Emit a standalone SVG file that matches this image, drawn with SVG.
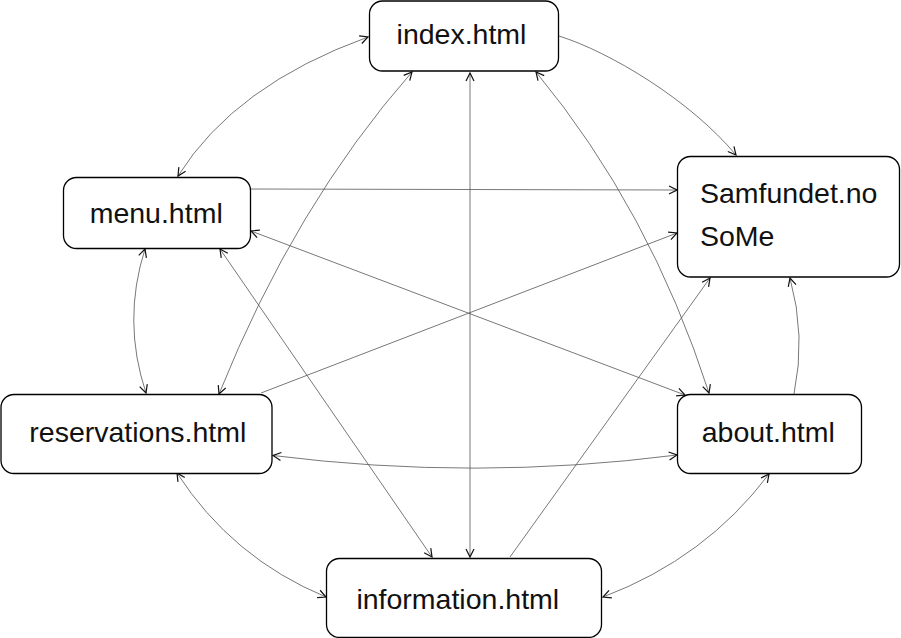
<svg xmlns="http://www.w3.org/2000/svg" width="901" height="638" viewBox="0 0 901 638">
<style>
.node rect{fill:#fff;stroke:#000;stroke-width:1.3}
.node text{font-family:"Liberation Sans",Arial,sans-serif;font-size:28.5px;fill:#111}
.c{fill:none;stroke:#555;stroke-width:0.8}
.v{fill:none;stroke:#aaa;stroke-width:1.6}
</style>
<defs>
<marker id="ah" viewBox="-1 -1 10 10" refX="8" refY="4" markerWidth="10" markerHeight="10" markerUnits="userSpaceOnUse" orient="auto-start-reverse">
<path d="M0,0 L8,4 L0,8" fill="none" stroke="#111" stroke-width="1.2"/>
</marker>
</defs>
<rect width="901" height="638" fill="#fff"/>
<g id="connectors">
<path class="c" d="M368,37 Q235,85 178,176" marker-start="url(#ah)" marker-end="url(#ah)"/>
<path class="c" d="M559,36 C610,52 690,100 736,155" marker-end="url(#ah)"/>
<path class="c" d="M412,72 Q295,205 219,394" marker-start="url(#ah)" marker-end="url(#ah)"/>
<path class="v" d="M470,73 L470,557" marker-start="url(#ah)" marker-end="url(#ah)"/>
<path class="c" d="M536,72 Q650,210 709,393" marker-start="url(#ah)" marker-end="url(#ah)"/>
<path class="c" d="M251,189 L677,190" marker-end="url(#ah)"/>
<path class="c" d="M251,231 L685,395" marker-start="url(#ah)" marker-end="url(#ah)"/>
<path class="c" d="M220,249 L432,557" marker-start="url(#ah)" marker-end="url(#ah)"/>
<path class="c" d="M145,249 Q122,321 146,393" marker-start="url(#ah)" marker-end="url(#ah)"/>
<path class="c" d="M261,393 L677,233" marker-end="url(#ah)"/>
<path class="c" d="M273,455.5 Q475,481 677,455" marker-start="url(#ah)" marker-end="url(#ah)"/>
<path class="c" d="M177,473 Q232,558 326,597" marker-start="url(#ah)" marker-end="url(#ah)"/>
<path class="c" d="M510,557 L710,278" marker-end="url(#ah)"/>
<path class="c" d="M769,474 Q706,558 603,597" marker-start="url(#ah)" marker-end="url(#ah)"/>
<path class="c" d="M794,394 Q806,336 790,278" marker-end="url(#ah)"/>
</g>
<g id="index" class="node">
<rect x="369.5" y="1" width="189" height="70" rx="13"/>
<text x="461.5" y="44" text-anchor="middle">index.html</text>
</g>
<g id="samfundet" class="node">
<rect x="677.5" y="156.5" width="222" height="120.5" rx="13"/>
<text x="700" y="202.5">Samfundet.no</text>
<text x="700" y="246">SoMe</text>
</g>
<g id="menu" class="node">
<rect x="63.5" y="177.5" width="187" height="71" rx="13"/>
<text x="156.2" y="223" text-anchor="middle">menu.html</text>
</g>
<g id="reservations" class="node">
<rect x="1" y="394.5" width="271" height="79" rx="13"/>
<text x="137.8" y="442" text-anchor="middle">reservations.html</text>
</g>
<g id="about" class="node">
<rect x="677.5" y="394.5" width="184" height="79" rx="13"/>
<text x="768.3" y="442" text-anchor="middle">about.html</text>
</g>
<g id="information" class="node">
<rect x="326.5" y="558.5" width="275" height="79" rx="13"/>
<text x="457.8" y="609" text-anchor="middle">information.html</text>
</g>
</svg>
